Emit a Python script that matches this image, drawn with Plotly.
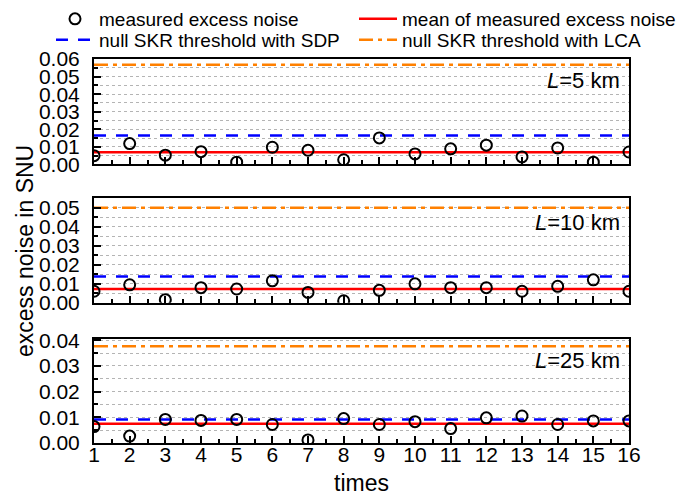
import plotly.graph_objects as go

# ---------------- data ----------------
times = list(range(1, 17))
noise_5km = [0.0050, 0.0119, 0.0053, 0.0073, 0.0013, 0.0098, 0.0081, 0.0027,
             0.0151, 0.0060, 0.0089, 0.0110, 0.0043, 0.0094, 0.0013, 0.0071]
noise_10km = [0.0060, 0.0094, 0.0016, 0.0079, 0.0072, 0.0115, 0.0054, 0.0010,
              0.0065, 0.0099, 0.0079, 0.0079, 0.0060, 0.0086, 0.0120, 0.0060]
noise_25km = [0.0064, 0.0027, 0.0092, 0.0088, 0.0092, 0.0072, 0.0012, 0.0095,
              0.0072, 0.0083, 0.0056, 0.0098, 0.0105, 0.0072, 0.0086, 0.0086]
mean_vals = [0.0070, 0.0072, 0.0075]
sdp_vals = [0.0165, 0.0138, 0.0092]
lca_vals = [0.0567, 0.0499, 0.0377]
panel_labels = ["<i>L</i>=5 km", "<i>L</i>=10 km", "<i>L</i>=25 km"]
series_names = ["measured excess noise", "mean of measured excess noise",
                "null SKR threshold with SDP", "null SKR threshold with LCA"]
x_tick_labels = [str(t) for t in times]
x_title = "times"
y_title = "excess noise in SNU"

noise_all = [noise_5km, noise_10km, noise_25km]

# ---------------- styling ----------------
FONT = "Liberation Sans, Arial, sans-serif"
FS_TICK = 21
FS_TITLE = 23
FS_LEG = 19
FS_ANN = 22
RED = "#FF0000"
BLUE = "#0000FF"
ORANGE = "#FF8000"
W, H = 685, 493
ML, MR, MT, MB = 86, 64, 51, 58
PW, PH = W - ML - MR, H - MT - MB
y_ranges = [[0, 0.06], [0, 0.055], [0, 0.0405]]
domains = [[0.7253, 1.0], [0.3654, 0.638], [0.0, 0.2708]]
label_y = [0.80, 0.77, 0.79]

fig = go.Figure()

legend_keys = ["legend", "legend2", "legend3", "legend4"]
for i in range(3):
    xa = "x" if i == 0 else f"x{i+1}"
    ya = "y" if i == 0 else f"y{i+1}"
    show = i == 0
    xline = [times[0], times[-1]]
    fig.add_trace(go.Scatter(x=xline, y=[lca_vals[i]] * 2, mode="lines",
                             line=dict(color=ORANGE, width=2.5, dash="14px,5px,4px,5px"),
                             name=series_names[3], showlegend=show, legend=legend_keys[3],
                             xaxis=xa, yaxis=ya))
    fig.add_trace(go.Scatter(x=xline, y=[sdp_vals[i]] * 2, mode="lines",
                             line=dict(color=BLUE, width=2.5, dash="12px,10px"),
                             name=series_names[2], showlegend=show, legend=legend_keys[2],
                             xaxis=xa, yaxis=ya))
    fig.add_trace(go.Scatter(x=xline, y=[mean_vals[i]] * 2, mode="lines",
                             line=dict(color=RED, width=2.5),
                             name=series_names[1], showlegend=show, legend=legend_keys[1],
                             xaxis=xa, yaxis=ya))
    fig.add_trace(go.Scatter(x=times, y=noise_all[i], mode="markers",
                             marker=dict(symbol="circle-open", size=11, color="black",
                                         line=dict(width=2, color="black")),
                             name=series_names[0], showlegend=show, legend=legend_keys[0],
                             xaxis=xa, yaxis=ya, cliponaxis=True))

for i in range(3):
    xkey = "xaxis" if i == 0 else f"xaxis{i+1}"
    ykey = "yaxis" if i == 0 else f"yaxis{i+1}"
    ya = "y" if i == 0 else f"y{i+1}"
    xa = "x" if i == 0 else f"x{i+1}"
    fig.layout[xkey] = dict(
        range=[1, 16], anchor=ya, domain=[0, 1],
        tickmode="array", tickvals=times, ticktext=x_tick_labels,
        showticklabels=(i == 2),
        ticks="inside", ticklen=7, tickwidth=1.5, tickcolor="black",
        minor=dict(dtick=0.5, tick0=1, ticks="inside", ticklen=4, tickwidth=1.5,
                   tickcolor="black", showgrid=False),
        showline=True, linecolor="black", linewidth=2, mirror=True,
        showgrid=False, zeroline=False, automargin=False,
        tickfont=dict(family=FONT, size=FS_TICK, color="black"),
        ticklabelstandoff=-8,
    )
    fig.layout[ykey] = dict(
        range=y_ranges[i], anchor=xa, domain=domains[i],
        dtick=0.01, tick0=0, tickformat=".2f",
        ticks="inside", ticklen=7, tickwidth=1.5, tickcolor="black",
        minor=dict(dtick=0.005, tick0=0, ticks="inside", ticklen=4, tickwidth=1.5,
                   tickcolor="black", showgrid=True, gridcolor="#b4b4b4",
                   griddash="dot", gridwidth=1),
        showgrid=True, gridcolor="#b4b4b4", griddash="dot", gridwidth=1,
        showline=True, linecolor="black", linewidth=2, mirror=True,
        zeroline=False, automargin=False,
        tickfont=dict(family=FONT, size=FS_TICK, color="black"),
        ticklabelstandoff=8,
    )
    fig.add_annotation(text=panel_labels[i], xref=f"{xa} domain", yref=f"{ya} domain",
                       x=0.987, y=label_y[i], xanchor="right", yanchor="middle",
                       showarrow=False, font=dict(family=FONT, size=FS_ANN, color="black"))

# axis titles as positioned annotations
fig.add_annotation(text=y_title, xref="paper", yref="paper",
                   x=(17 - ML) / PW, y=0.5, xanchor="center", yanchor="middle", textangle=-90,
                   showarrow=False, font=dict(family=FONT, size=FS_TITLE, color="black"))
fig.add_annotation(text=x_title, xref="paper", yref="paper",
                   x=(353 - ML) / PW, y=(H - MB - 475) / PH, xanchor="center", yanchor="middle",
                   showarrow=False, font=dict(family=FONT, size=FS_TITLE, color="black"))

leg_common = dict(xanchor="left", yanchor="middle", itemwidth=38,
                  bgcolor="rgba(0,0,0,0)", borderwidth=0,
                  font=dict(family=FONT, size=FS_LEG, color="black"))
leg_pos = [(43, 11), (346, 11), (43, 32), (346, 32)]
for key, (px, py) in zip(legend_keys, leg_pos):
    fig.layout[key] = dict(x=(px - ML) / PW, y=(H - MB - py) / PH, **leg_common)

fig.update_layout(
    width=W, height=H,
    margin=dict(l=ML, r=MR, t=MT, b=MB, autoexpand=False),
    paper_bgcolor="white", plot_bgcolor="white",
    font=dict(family=FONT, size=FS_TICK, color="black"),
)

fig.write_html("out.html")
